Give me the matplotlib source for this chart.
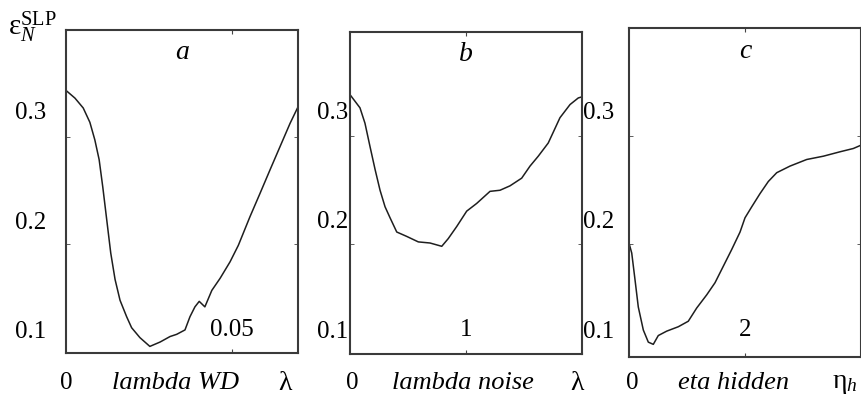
import matplotlib.pyplot as plt

plt.rcParams['font.family'] = ['Liberation Serif', 'DejaVu Serif']
plt.rcParams['mathtext.fontset'] = 'custom'
plt.rcParams['mathtext.rm'] = 'Liberation Serif'
plt.rcParams['mathtext.it'] = 'Liberation Serif:italic'

# panel a: weight decay
wd_x = [0, 0.0027, 0.0052, 0.0072, 0.0087, 0.0100, 0.0111, 0.0123, 0.0135, 0.0148,
        0.0163, 0.0183, 0.0198, 0.0223, 0.0253, 0.0284, 0.0314, 0.0334, 0.0359,
        0.0374, 0.0389, 0.0402, 0.0419, 0.0440, 0.0465, 0.0495, 0.0520, 0.0555,
        0.0585, 0.0616, 0.0646, 0.0676, 0.07]
wd_err = [0.318, 0.311, 0.302, 0.289, 0.273, 0.255, 0.230, 0.200, 0.170, 0.146,
          0.127, 0.112, 0.102, 0.093, 0.085, 0.089, 0.094, 0.096, 0.100,
          0.112, 0.121, 0.126, 0.121, 0.136, 0.147, 0.162, 0.177, 0.203,
          0.224, 0.246, 0.267, 0.288, 0.303]

# panel b: noise
noise_x = [0, 0.086, 0.129, 0.172, 0.216, 0.259, 0.302, 0.345, 0.403, 0.489, 0.589,
           0.690, 0.791, 0.847, 0.920, 1.006, 1.092, 1.207, 1.293, 1.379, 1.480,
           1.552, 1.623, 1.709, 1.753, 1.810, 1.897, 1.968, 2.0]
noise_err = [0.314, 0.302, 0.288, 0.267, 0.246, 0.227, 0.212, 0.202, 0.189, 0.185,
             0.180, 0.179, 0.176, 0.183, 0.194, 0.208, 0.215, 0.226, 0.227, 0.231,
             0.238, 0.249, 0.258, 0.270, 0.280, 0.293, 0.305, 0.311, 0.312]

# panel c: hidden learning rate
eta_x = [0, 0.047, 0.103, 0.16, 0.247, 0.333, 0.419, 0.505, 0.65, 0.85, 1.022,
         1.167, 1.34, 1.483, 1.626, 1.769, 1.914, 2.0, 2.116, 2.259, 2.402, 2.547,
         2.776, 3.064, 3.351, 3.638, 3.868, 4.0]
eta_err = [0.179, 0.170, 0.146, 0.121, 0.100, 0.089, 0.087, 0.095, 0.099, 0.103,
           0.108, 0.120, 0.132, 0.143, 0.158, 0.173, 0.189, 0.202, 0.212, 0.224,
           0.235, 0.243, 0.249, 0.255, 0.258, 0.262, 0.265, 0.268]

W, H = 862, 397
fig = plt.figure(figsize=(W / 100, H / 100), dpi=100)


def box(l, t, r, b):
    return [l / W, 1 - b / H, (r - l) / W, (b - t) / H]


def panel(rect, x, y, xmax, mid, ylim, letter, mid_lab):
    ax = fig.add_axes(rect)
    ax.plot(x, y, color='#1e1e1e', lw=1.1)
    ax.set_xlim(0, xmax)
    ax.set_ylim(*ylim)
    ax.set_xticks([mid])
    ax.set_xticklabels([])
    ax.tick_params(axis='x', direction='in', length=3, top=True, bottom=True,
                   color='#444444')
    ax.set_yticks([0.1, 0.2, 0.3])
    ax.set_yticklabels(['0.1', '0.2', '0.3'])
    ax.set_yticks([0.178, 0.276], minor=True)
    ax.tick_params(axis='y', which='major', length=0, labelsize=18)
    ax.tick_params(axis='y', which='minor', direction='in', length=3,
                   left=True, right=True, color='#444444')
    for s in ax.spines.values():
        s.set_linewidth(1.5)
        s.set_color('#3a3a3a')
    ax.text(0.5, 0.93, letter, transform=ax.transAxes, ha='center', va='center',
            fontsize=20, style='italic')
    ax.text(mid, 0.1, mid_lab, ha='center', va='center', fontsize=18)
    return ax


ax1 = panel(box(66, 30, 298, 353), wd_x, wd_err, 0.07, 0.05,
            (0.079, 0.373), 'a', '0.05')
ax1.tick_params(axis='y', which='major', pad=14)

ax2 = panel(box(350, 32, 582, 354), noise_x, noise_err, 2, 1,
            (0.078, 0.371), 'b', '1')
ax2.tick_params(axis='y', which='major', pad=1, labelright=True)

ax3 = panel(box(629, 28, 861, 357), eta_x, eta_err, 4, 2,
            (0.0755, 0.3745), 'c', '2')
ax3.tick_params(axis='y', which='major', labelleft=False)

# bottom axis names
y0 = 1 - 383 / H
for x0, name, xn, sym, xs in [(66, 'lambda WD', 175, 'λ', 285),
                              (352, 'lambda noise', 463, 'λ', 577),
                              (632, 'eta hidden', 734, r'$\mathrm{η}_h$', 845)]:
    fig.text(x0 / W, y0, '0', ha='center', va='center', fontsize=18)
    fig.text(xn / W, y0, name, ha='center', va='center', fontsize=19,
             style='italic')
    fig.text(xs / W, y0, sym, ha='center', va='center', fontsize=20)

fig.text(8 / W, 1 - 27 / H, r'$\mathrm{ε}_N^{\mathrm{SLP}}$', ha='left',
         va='center', fontsize=21)

fig.savefig('out.png', dpi=100)
